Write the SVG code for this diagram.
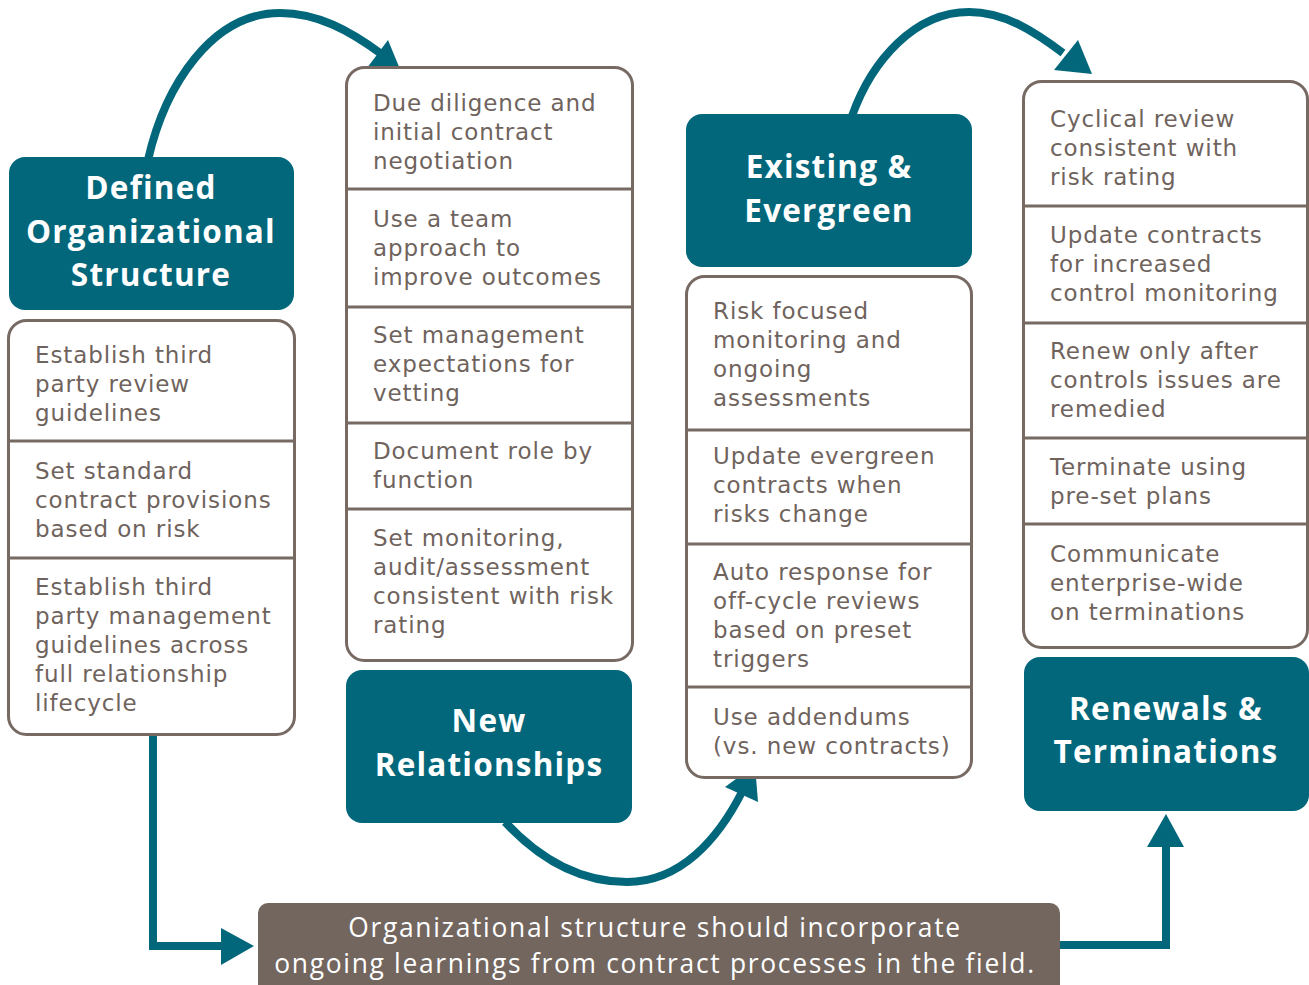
<svg xmlns="http://www.w3.org/2000/svg" width="1309" height="985" viewBox="0 0 1309 985">
  <style>
    .hdr { fill: #03677B; }
    .hdr-t { fill: #ffffff; font-family: "Open Sans", "Liberation Sans", sans-serif; font-weight: 700; font-size: 31.5px; letter-spacing: 1.2px; text-anchor: middle; }
    .list { fill: #ffffff; stroke: #766A63; stroke-width: 3; }
    .div { stroke: #766A63; stroke-width: 3; }
    .item { fill: #6F635D; font-family: "DejaVu Sans", "Open Sans", sans-serif; font-size: 23px; letter-spacing: 0.9px; }
    .flow { fill: none; stroke: #03677B; stroke-width: 8; }
    .head { fill: #03677B; }
    .note { fill: #72665F; }
    .note-t { fill: #ffffff; font-family: "Open Sans", "Liberation Sans", sans-serif; font-size: 26.4px; letter-spacing: 1.7px; text-anchor: middle; }
  </style>
  <rect width="1309" height="985" fill="#ffffff"/>

  <!-- connectors -->
  <g id="connectors">
    <path class="flow" d="M148,160 C165,85 212,13 280,13 C318,13 350,31 380,53"/>
    <polygon class="head" points="388,40 402,74 367,68"/>
    <path class="flow" d="M505,822 C545,865 585,882 627,882 C680,882 718,840 743,790"/>
    <polygon class="head" points="755,765 758,802 725,787"/>
    <path class="flow" d="M852,116 C872,60 915,12 969,12 C1005,12 1035,32 1063,53"/>
    <polygon class="head" points="1078,40 1092,74 1054,70"/>
    <polyline class="flow" points="153,735 153,946 224,946"/>
    <polygon class="head" points="221,928 254,946 221,965"/>
    <polyline class="flow" points="1058,945 1166,945 1166,845"/>
    <polygon class="head" points="1147,847 1166,814 1184,847"/>
  </g>

  <!-- stage 1 -->
  <g id="defined-structure">
    <rect class="hdr" x="9" y="157" width="285" height="153" rx="16"/>
    <text class="hdr-t" y="199"><tspan x="151">Defined</tspan><tspan x="151" dy="44">Organizational</tspan><tspan x="151" dy="43">Structure</tspan></text>
  </g>
  <g id="defined-structure-items">
    <rect class="list" x="8.5" y="320.5" width="286" height="414" rx="18"/>
    <line class="div" x1="8.5" y1="441" x2="294.5" y2="441"/>
    <line class="div" x1="8.5" y1="558" x2="294.5" y2="558"/>
    <text class="item" y="363"><tspan x="35">Establish third</tspan><tspan x="35" dy="29">party review</tspan><tspan x="35" dy="29">guidelines</tspan></text>
    <text class="item" y="479"><tspan x="35">Set standard</tspan><tspan x="35" dy="29">contract provisions</tspan><tspan x="35" dy="29">based on risk</tspan></text>
    <text class="item" y="595"><tspan x="35">Establish third</tspan><tspan x="35" dy="29">party management</tspan><tspan x="35" dy="29">guidelines across</tspan><tspan x="35" dy="29">full relationship</tspan><tspan x="35" dy="29">lifecycle</tspan></text>
  </g>

  <!-- stage 2 -->
  <g id="new-relationships-items">
    <rect class="list" x="346.5" y="67.5" width="286" height="593" rx="18"/>
    <line class="div" x1="346.5" y1="189" x2="632.5" y2="189"/>
    <line class="div" x1="346.5" y1="307" x2="632.5" y2="307"/>
    <line class="div" x1="346.5" y1="423" x2="632.5" y2="423"/>
    <line class="div" x1="346.5" y1="509" x2="632.5" y2="509"/>
    <text class="item" y="111"><tspan x="373">Due diligence and</tspan><tspan x="373" dy="29">initial contract</tspan><tspan x="373" dy="29">negotiation</tspan></text>
    <text class="item" y="227"><tspan x="373">Use a team</tspan><tspan x="373" dy="29">approach to</tspan><tspan x="373" dy="29">improve outcomes</tspan></text>
    <text class="item" y="343"><tspan x="373">Set management</tspan><tspan x="373" dy="29">expectations for</tspan><tspan x="373" dy="29">vetting</tspan></text>
    <text class="item" y="459"><tspan x="373">Document role by</tspan><tspan x="373" dy="29">function</tspan></text>
    <text class="item" y="546"><tspan x="373">Set monitoring,</tspan><tspan x="373" dy="29">audit/assessment</tspan><tspan x="373" dy="29">consistent with risk</tspan><tspan x="373" dy="29">rating</tspan></text>
  </g>
  <g id="new-relationships">
    <rect class="hdr" x="346" y="670" width="286" height="153" rx="16"/>
    <text class="hdr-t" y="732"><tspan x="489">New</tspan><tspan x="489" dy="44">Relationships</tspan></text>
  </g>

  <!-- stage 3 -->
  <g id="existing-evergreen">
    <rect class="hdr" x="686" y="114" width="286" height="153" rx="16"/>
    <text class="hdr-t" y="178"><tspan x="829">Existing &amp;</tspan><tspan x="829" dy="44">Evergreen</tspan></text>
  </g>
  <g id="existing-evergreen-items">
    <rect class="list" x="686.5" y="276.5" width="285" height="501" rx="18"/>
    <line class="div" x1="686.5" y1="430" x2="971.5" y2="430"/>
    <line class="div" x1="686.5" y1="544" x2="971.5" y2="544"/>
    <line class="div" x1="686.5" y1="687" x2="971.5" y2="687"/>
    <text class="item" y="319"><tspan x="713">Risk focused</tspan><tspan x="713" dy="29">monitoring and</tspan><tspan x="713" dy="29">ongoing</tspan><tspan x="713" dy="29">assessments</tspan></text>
    <text class="item" y="464"><tspan x="713">Update evergreen</tspan><tspan x="713" dy="29">contracts when</tspan><tspan x="713" dy="29">risks change</tspan></text>
    <text class="item" y="580"><tspan x="713">Auto response for</tspan><tspan x="713" dy="29">off-cycle reviews</tspan><tspan x="713" dy="29">based on preset</tspan><tspan x="713" dy="29">triggers</tspan></text>
    <text class="item" y="725"><tspan x="713">Use addendums</tspan><tspan x="713" dy="29">(vs. new contracts)</tspan></text>
  </g>

  <!-- stage 4 -->
  <g id="renewals-terminations-items">
    <rect class="list" x="1023.5" y="81.5" width="284" height="566" rx="18"/>
    <line class="div" x1="1023.5" y1="206" x2="1307.5" y2="206"/>
    <line class="div" x1="1023.5" y1="323" x2="1307.5" y2="323"/>
    <line class="div" x1="1023.5" y1="438" x2="1307.5" y2="438"/>
    <line class="div" x1="1023.5" y1="524" x2="1307.5" y2="524"/>
    <text class="item" y="127"><tspan x="1050">Cyclical review</tspan><tspan x="1050" dy="29">consistent with</tspan><tspan x="1050" dy="29">risk rating</tspan></text>
    <text class="item" y="243"><tspan x="1050">Update contracts</tspan><tspan x="1050" dy="29">for increased</tspan><tspan x="1050" dy="29">control monitoring</tspan></text>
    <text class="item" y="359"><tspan x="1050">Renew only after</tspan><tspan x="1050" dy="29">controls issues are</tspan><tspan x="1050" dy="29">remedied</tspan></text>
    <text class="item" y="475"><tspan x="1050">Terminate using</tspan><tspan x="1050" dy="29">pre-set plans</tspan></text>
    <text class="item" y="562"><tspan x="1050">Communicate</tspan><tspan x="1050" dy="29">enterprise-wide</tspan><tspan x="1050" dy="29">on terminations</tspan></text>
  </g>
  <g id="renewals-terminations">
    <rect class="hdr" x="1024" y="657" width="285" height="154" rx="16"/>
    <text class="hdr-t" y="720"><tspan x="1166">Renewals &amp;</tspan><tspan x="1166" dy="43">Terminations</tspan></text>
  </g>

  <!-- feedback note -->
  <g id="learning-note">
    <rect class="note" x="258" y="903" width="802" height="100" rx="10"/>
    <text class="note-t" y="937"><tspan x="655">Organizational structure should incorporate</tspan><tspan x="655" dy="36">ongoing learnings from contract processes in the field.</tspan></text>
  </g>
</svg>
